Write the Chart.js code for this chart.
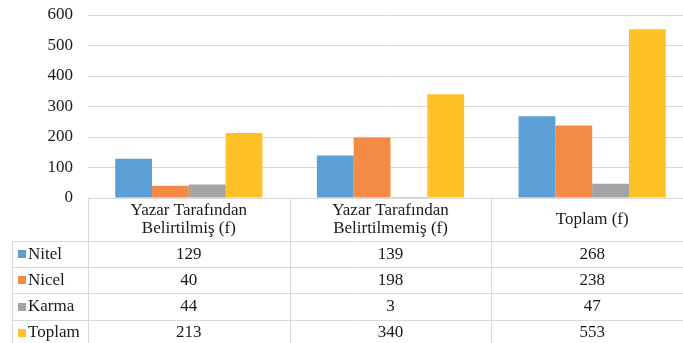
<!DOCTYPE html>
<html>
<head>
<meta charset="utf-8">
<script src="https://cdn.jsdelivr.net/npm/chart.js@4/dist/chart.umd.min.js"></script>
<style>
  html, body { margin: 0; padding: 0; background: #fff; overflow: hidden; }
  #wrap { width: 693px; height: 343px; }
</style>
</head>
<body>
<div id="wrap"><canvas id="c" width="693" height="343"></canvas></div>
<script>
// Column headings (one entry per line of text)
const categories = [
  ['Yazar Tarafından', 'Belirtilmiş (f)'],
  ['Yazar Tarafından', 'Belirtilmemiş (f)'],
  ['Toplam (f)']
];
const seriesNames = ['Nitel', 'Nicel', 'Karma', 'Toplam'];
const nitel  = [129, 139, 268];
const nicel  = [40, 198, 238];
const karma  = [44, 3, 47];
const toplam = [213, 340, 553];
const yTicks = [0, 100, 200, 300, 400, 500, 600];

const colors = ['#5B9FD6', '#F38A46', '#A3A5A5', '#FEC227'];
const seriesValues = [nitel, nicel, karma, toplam];
const FONT = '"Liberation Serif", "Times New Roman", serif';
const TEXT = '#1a1a1a';
const LINE = '#d9d9d9';

// Data table drawn beneath the plot area, aligned to the category scale
const dataTable = {
  id: 'dataTable',
  afterDraw(chart) {
    const ctx = chart.ctx;
    const xs = chart.scales.x;
    const area = chart.chartArea;
    const n = categories.length;
    const colW = (area.right - area.left) / n;
    const top = area.bottom;
    const headH = 43;
    const rowH = 26.2;
    const tableLeft = 12;
    ctx.save();
    ctx.strokeStyle = LINE;
    ctx.lineWidth = 1;
    // horizontal lines
    for (let r = 0; r <= seriesNames.length; r++) {
      const y = Math.round(top + headH + r * rowH) + 0.5;
      ctx.beginPath();
      ctx.moveTo(tableLeft, y);
      ctx.lineTo(area.right, y);
      ctx.stroke();
    }
    // vertical lines
    ctx.beginPath();
    ctx.moveTo(tableLeft + 0.5, top + headH);
    ctx.lineTo(tableLeft + 0.5, chart.height);
    ctx.stroke();
    for (let i = 0; i <= n; i++) {
      const x = Math.round(area.left + i * colW) + 0.5;
      ctx.beginPath();
      ctx.moveTo(x, top);
      ctx.lineTo(x, chart.height);
      ctx.stroke();
    }
    ctx.fillStyle = TEXT;
    ctx.font = '17px ' + FONT;
    ctx.textAlign = 'center';
    ctx.textBaseline = 'middle';
    // header
    categories.forEach((lines, i) => {
      const cx = xs.getPixelForValue(i);
      const lh = 18;
      const y0 = top + headH / 2 - (lines.length - 1) * lh / 2;
      lines.forEach((t, k) => ctx.fillText(t, cx, y0 + k * lh));
    });
    // rows
    seriesNames.forEach((name, r) => {
      const cy = top + headH + r * rowH + rowH / 2;
      ctx.fillStyle = colors[r];
      ctx.fillRect(18, Math.round(cy - 4), 8, 8);
      ctx.fillStyle = TEXT;
      ctx.textAlign = 'left';
      ctx.fillText(name, 28, cy);
      ctx.textAlign = 'center';
      seriesValues[r].forEach((v, i) => ctx.fillText(String(v), xs.getPixelForValue(i), cy));
    });
    ctx.restore();
  }
};

new Chart(document.getElementById('c'), {
  type: 'bar',
  data: {
    labels: categories.map(l => l.join(' ')),
    datasets: seriesNames.map((name, i) => ({
      label: name,
      data: seriesValues[i],
      backgroundColor: colors[i],
      borderWidth: 0,
      categoryPercentage: 0.73,
      barPercentage: 1.0
    }))
  },
  options: {
    responsive: false,
    animation: false,
    layout: { padding: { top: 15, right: 0, left: 0, bottom: 0 } },
    plugins: { legend: { display: false }, tooltip: { enabled: false } },
    scales: {
      x: {
        ticks: { display: false },
        grid: { display: false },
        border: { display: false },
        afterFit(scale) { scale.height = 145; }
      },
      y: {
        min: 0,
        max: 600,
        afterBuildTicks(scale) { scale.ticks = yTicks.map(v => ({ value: v })); },
        ticks: { color: TEXT, font: { family: FONT, size: 17 }, padding: 15 },
        grid: { color: LINE, lineWidth: 1, drawTicks: false },
        border: { display: false },
        afterFit(scale) {
          scale.width = 88;
          scale.paddingTop = 0;
          scale.paddingBottom = 0;
        }
      }
    }
  },
  plugins: [dataTable]
});
</script>
</body>
</html>
